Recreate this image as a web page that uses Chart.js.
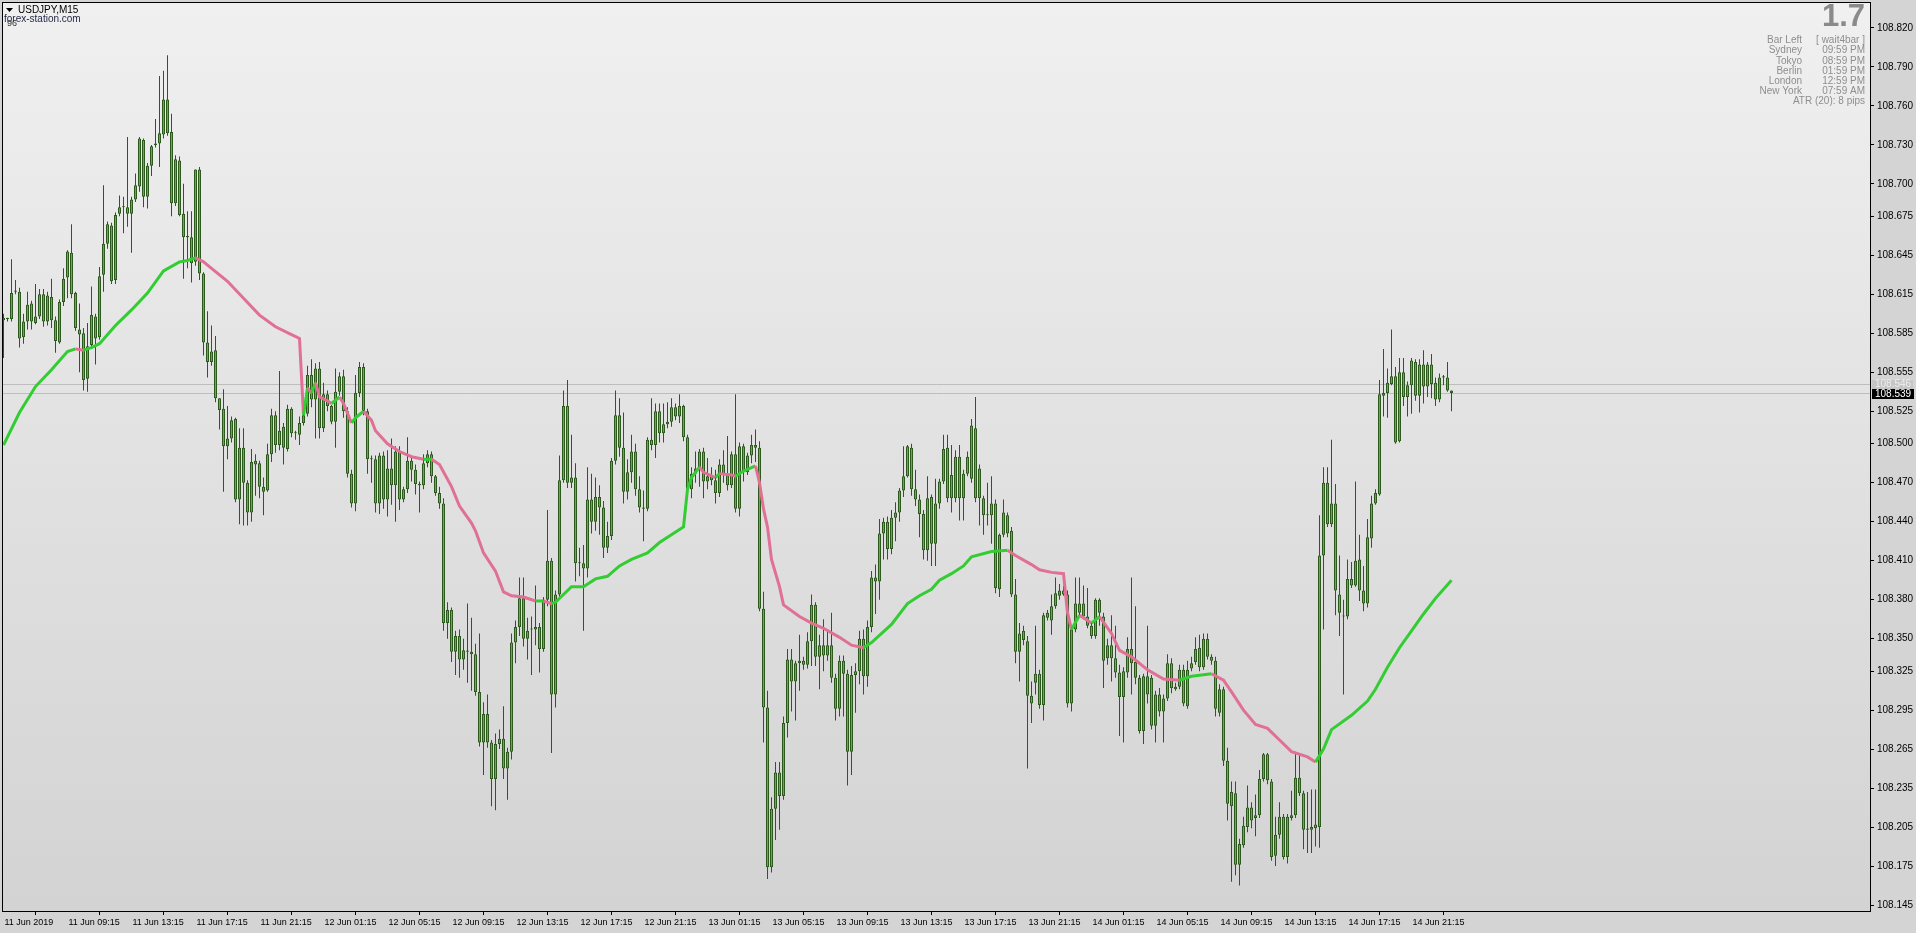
<!DOCTYPE html>
<html>
<head>
<meta charset="utf-8">
<title>USDJPY,M15</title>
<script src="https://cdn.jsdelivr.net/npm/chart.js@4.4.0/dist/chart.umd.min.js"></script>
<style>
html, body { margin: 0; padding: 0; background: #d4d4d4; overflow: hidden; }
canvas { display: block; }
</style>
</head>
<body>
<canvas id="chart" width="1916" height="933"></canvas>
<script>
// M15 bars from 11 Jun 2019 05:15, prices in points above 108.000 (1 point = 0.001)
var BASE = 108;
var opens = [
597,596,596,617,617,582,594,608,593,598, 615,594,613,595,578,609,628,647,616,588,
585,550,576,598,582,630,654,668,626,677, 682,682,677,688,698,734,690,714,730,731,
738,765,740,685,718,677,659,659,640,711, 631,578,563,572,535,527,498,504,519,457,
497,470,447,487,485,467,464,492,522,499, 497,496,527,508,507,516,523,553,534,558,
512,538,529,517,540,552,525,477,454,539, 559,525,488,488,454,491,457,481,468,494,
457,465,487,480,469,468,485,492,475,462, 454,362,372,340,352,334,340,340,338,309,
270,292,270,242,269,273,250,263,347,359, 381,350,357,357,359,342,380,410,307,384,
472,529,470,474,408,408,404,457,440,459, 451,420,429,487,522,497,463,478,494,465,
451,450,503,499,525,508,515,517,528,521, 529,505,465,477,481,494,471,475,472,462,
484,476,468,492,450,498,478,491,499,497, 373,297,174,219,247,229,285,334,317,331,
333,330,348,376,336,345,337,345,320,296, 333,323,263,322,325,350,321,359,397,394,
431,440,419,443,447,464,475,497,465,457, 446,418,459,423,454,471,497,458,458,490,
458,477,473,512,481,458,445,445,454,388, 430,445,433,384,340,349,348,300,316,323,
299,366,364,375,383,384,384,300,357,370, 377,367,360,352,380,367,335,345,335,324,
305,324,342,332,320,279,321,320,283,294, 294,304,331,311,313,326,298,327,332,343,
328,350,336,333,293,311,256,221,231,176, 191,205,220,212,214,242,261,240,183,199,
213,182,212,214,243,231,203,205,204,205, 414,470,438,454,384,367,367,396,391,411,
387,377,427,454,461,537,539,546,552,502, 555,536,545,563,537,561,544,561,547,534,
551,551,541];
var highs = [
600,597,642,626,620,600,617,610,623,619, 619,617,627,598,611,635,649,669,617,608,
589,593,621,600,636,699,671,670,678,691, 690,736,690,708,736,735,716,730,750,783,
787,799,754,722,721,700,679,679,711,713, 632,602,591,583,535,542,529,521,520,512,
512,472,496,492,487,474,500,527,525,556, 516,530,528,510,521,525,560,565,562,563,
547,541,530,558,555,557,528,480,553,563, 562,527,491,491,493,494,495,504,498,498,
467,505,491,484,471,492,495,494,476,467, 458,378,374,356,357,350,377,366,346,354,
301,307,272,277,280,298,266,354,364,397, 397,366,367,391,362,382,449,412,387,491,
541,549,507,485,420,422,482,477,474,468, 456,440,489,541,535,524,488,507,500,475,
464,505,535,531,531,531,532,535,531,538, 530,507,482,494,496,497,489,482,480,488,
495,506,494,538,501,500,493,507,511,502, 386,310,228,255,255,290,342,342,333,353,
336,355,384,378,353,365,357,370,323,337, 337,326,329,331,356,357,364,402,407,442,
443,444,449,455,466,498,499,500,480,461, 449,475,461,473,473,507,507,499,495,499,
480,494,519,536,484,460,470,475,457,431, 457,447,436,396,362,360,352,317,360,326,
370,372,384,397,392,391,387,359,397,397, 391,389,362,381,381,370,350,368,360,330,
328,351,397,375,322,323,360,322,310,312, 307,338,335,316,330,330,333,336,351,353,
354,354,338,336,315,313,266,240,240,196, 213,237,224,230,249,262,262,242,213,224,
215,215,233,263,262,233,232,234,234,445, 482,482,503,469,414,380,411,409,471,430,
406,442,460,465,549,573,558,588,559,566, 566,548,566,565,565,572,563,569,551,554,
553,563,541];
var lows = [
566,594,594,615,574,577,588,588,592,596, 590,591,589,570,577,606,612,612,587,555,
541,540,574,561,580,617,650,623,623,675, 662,667,647,686,694,682,681,706,728,713,
735,737,675,683,675,627,635,624,637,626, 568,551,560,532,511,463,488,501,455,438,
437,437,440,460,458,445,463,486,493,495, 484,494,505,503,499,514,521,528,504,504,
509,525,515,497,537,520,474,451,448,536, 522,477,470,447,446,450,444,453,440,449,
455,462,471,461,447,465,482,470,460,450, 356,350,332,322,320,326,316,310,306,267,
245,266,221,218,265,242,226,257,331,352, 344,334,322,345,324,340,375,262,297,380,
470,466,466,394,398,356,397,431,433,430, 412,416,426,484,490,454,457,470,460,447,
425,448,495,489,501,501,512,513,518,516, 502,460,458,470,467,458,465,468,454,459,
470,464,466,447,444,471,476,485,486,371, 270,165,170,195,203,226,274,294,287,310,
326,327,329,329,311,325,333,316,287,290, 290,237,245,293,315,307,313,355,369,380,
411,411,415,425,440,459,474,460,452,428, 411,410,406,406,450,469,455,447,455,441,
441,475,470,455,437,430,437,423,385,382, 428,428,382,331,317,345,250,285,307,296,
287,364,353,373,380,383,297,294,355,366, 365,358,350,350,360,312,330,317,320,275,
270,320,307,315,277,269,300,280,270,290, 270,302,308,310,311,298,296,325,330,325,
326,334,330,290,290,252,210,163,168,160, 189,201,204,198,212,240,238,179,175,196,
180,177,210,212,229,188,185,185,190,189, 357,436,436,368,352,307,365,389,390,379,
371,374,420,453,460,521,520,545,500,501, 529,521,523,533,524,531,536,535,529,532,
545,540,525];
var closes = [
595,596,616,618,581,594,607,594,598,615, 594,614,595,579,609,627,648,615,589,584,
549,575,599,581,629,654,669,625,676,682, 682,677,688,699,735,690,714,729,731,739,
765,739,685,719,676,659,659,639,711,631, 578,563,571,535,526,498,504,518,457,497,
470,447,486,484,467,463,492,522,499,510, 513,527,508,508,516,522,553,534,558,512,
538,529,517,540,552,525,477,454,539,559, 525,488,488,454,491,457,481,468,494,457,
465,487,480,469,468,485,492,475,462,454, 362,372,340,352,334,341,340,338,309,270,
292,270,242,269,273,250,263,347,359,381, 350,356,357,359,342,380,410,307,384,472,
529,470,474,408,408,404,457,440,459,451, 420,429,487,522,497,463,478,494,465,451,
450,503,499,525,508,515,517,528,521,529, 505,465,477,481,494,471,475,472,462,484,
476,468,492,450,498,478,491,499,497,373, 297,174,219,247,229,285,334,317,331,333,
330,348,376,336,345,337,345,320,296,333, 323,263,322,325,350,321,359,397,394,431,
440,419,443,447,464,475,498,465,457,446, 418,458,423,454,471,496,458,476,490,458,
477,490,514,458,458,445,445,454,389,430, 447,431,384,340,354,356,306,306,323,299,
368,370,375,385,387,387,300,357,377,377, 367,360,352,380,370,333,345,335,324,305,
325,342,331,320,279,321,307,283,307,307, 304,331,312,313,326,300,326,331,342,328,
350,336,333,296,311,256,223,232,176,192, 206,220,210,214,242,261,241,182,199,213,
182,213,214,243,231,203,203,203,207,414, 470,438,454,387,370,367,396,391,410,387,
377,428,454,462,538,539,547,552,501,555, 536,545,564,537,561,544,561,546,534,551,
552,541,539];

// moving average read at these bar numbers
var maBars = [0,4,8,12,16,18,20,22,24,28, 32,36,40,44,46,48,50,52,56,60, 64,68,72,74,75,76,77,78,79,81,
  82,84,85,87,88,90,92,93,96,99, 102,105,107,109,112,114,117,118,120,123, 125,127,130,133,135,137,138,142,145,148,
  151,154,157,161,164,169,170,171,172,174, 175,178,179,182,183,185,188,189,190,191, 192,194,195,199,202,205,209,212,215,217,
  222,226,229,232,234,237,240,242,247,251, 253,257,259,262,265,266,267,269,272,274, 277,279,282,286,290,294,297,302,305,307,
  310,313,316,319,322,326,328,330,332,337, 341,343,346,349,352,355,358,362];
var maValues = [499,524,544,557,571,573,572,574,577,591, 603,616,633,640,641,643,640,635,625,612, 599,590,584,581,522,543,539,547,536,533,
  531,536,531,516,520,525,518,510,500,494, 490,488,488,484,467,452,439,433,416,402, 386,383,382,379,379,377,378,390,390,396,
  398,406,411,416,424,434,436,465,474,482, 478,474,477,476,475,479,483,470,450,436, 411,390,376,367,362,358,351,345,343,347,
  361,377,383,388,395,400,406,413,417,418, 414,407,403,401,400,370,357,368,362,367, 354,341,336,326,319,318,321,323,318,309,
  295,284,281,272,263,259,255,265,280,291, 302,311,328,343,356,369,381,395];

var LABEL_STEP = 16; // one time label every 16 bars (4 hours)
var timeLabels = ["11 Jun 2019","11 Jun 09:15","11 Jun 13:15","11 Jun 17:15","11 Jun 21:15",
  "12 Jun 01:15","12 Jun 05:15","12 Jun 09:15","12 Jun 13:15","12 Jun 17:15","12 Jun 21:15",
  "13 Jun 01:15","13 Jun 05:15","13 Jun 09:15","13 Jun 13:15","13 Jun 17:15","13 Jun 21:15",
  "14 Jun 01:15","14 Jun 05:15","14 Jun 09:15","14 Jun 13:15","14 Jun 17:15","14 Jun 21:15"];
var priceTicks = [108.145,108.175,108.205,108.235,108.265,108.295,108.325,108.350,108.380,108.410,108.440,108.470,
  108.500,108.525,108.555,108.585,108.615,108.645,108.675,108.700,108.730,108.760,108.790,108.820];

var askPrice = 108.546;
var bidPrice = 108.539;
var symbolTitle = "USDJPY,M15";
var siteText = "forex-station.com";
var smallText = "96";
var spreadText = "1.7";
var infoLabels = ["Bar Left", "Sydney", "Tokyo", "Berlin", "London", "New York"];
var infoValues = ["[ wait4bar ]", "09:59 PM", "08:59 PM", "01:59 PM", "12:59 PM", "07:59 AM"];
var atrText = "ATR (20): 8 pips";

var FONT = "'Liberation Sans', Arial, sans-serif";
var BULL = "#3cc43c";
var BEAR = "#dc705c";
var OUTLINE = "#2c5a1c";
var MA_UP = "#32cd32";
var MA_DOWN = "#e07094";

function price(p) { return BASE + p / 1000; }

var wickData = opens.map(function (o, i) {
  return { x: i, y: [price(lows[i]), price(highs[i])] };
});
var bodyData = opens.map(function (o, i) {
  var lo = Math.min(o, closes[i]);
  var hi = Math.max(o, closes[i]);
  if (hi - lo < 0.8) hi = lo + 0.8; // doji still shows as a line
  return { x: i, y: [price(lo), price(hi)] };
});
var bodyColors = opens.map(function (o, i) { return closes[i] >= o ? BULL : BEAR; });
var maData = maBars.map(function (b, k) { return { x: b, y: price(maValues[k]) }; });

var chromePlugin = {
  id: "chrome",
  beforeDraw: function (chart) {
    var c = chart.ctx, a = chart.chartArea;
    c.save();
    c.fillStyle = "#d4d4d4";
    c.fillRect(0, 0, chart.width, chart.height);
    var g = c.createLinearGradient(0, a.top, 0, a.bottom);
    g.addColorStop(0, "#f0f0f0");
    g.addColorStop(1, "#d3d3d3");
    c.fillStyle = g;
    c.fillRect(a.left, a.top, a.right - a.left, a.bottom - a.top);
    c.restore();
  },
  beforeDatasetsDraw: function (chart) {
    var c = chart.ctx, a = chart.chartArea, y = chart.scales.y;
    c.save();
    c.strokeStyle = "#bdbdbd";
    c.lineWidth = 1;
    [askPrice, bidPrice].forEach(function (p) {
      var py = Math.round(y.getPixelForValue(p)) + 0.5;
      c.beginPath();
      c.moveTo(a.left, py);
      c.lineTo(a.right, py);
      c.stroke();
    });
    c.restore();
  },
  afterDraw: function (chart) {
    var c = chart.ctx, a = chart.chartArea, y = chart.scales.y;
    c.save();
    c.strokeStyle = "#000";
    c.lineWidth = 1;
    c.strokeRect(a.left - 0.5, a.top - 0.5, a.right - a.left + 1, a.bottom - a.top + 1);

    // ask / bid labels on the price axis
    c.font = "10px " + FONT;
    c.textBaseline = "middle";
    c.textAlign = "left";
    var ay = Math.round(y.getPixelForValue(askPrice));
    var by = Math.round(y.getPixelForValue(bidPrice));
    c.fillStyle = "#c6c6c6";
    c.fillRect(a.right + 2, ay - 4, 41, 9);
    c.fillStyle = "#ededed";
    c.fillText(askPrice.toFixed(3), a.right + 5, ay + 0.5);
    c.fillStyle = "#000";
    c.fillRect(a.right + 2, by - 4, 42, 10);
    c.fillStyle = "#fff";
    c.fillText(bidPrice.toFixed(3), a.right + 5, by + 1);

    // top left
    c.fillStyle = "#000";
    c.beginPath();
    c.moveTo(6, 8); c.lineTo(13, 8); c.lineTo(9.5, 12); c.closePath();
    c.fill();
    c.font = "10px " + FONT;
    c.fillText(symbolTitle, 18, 10.5);
    c.fillStyle = "#1e2440";
    c.fillText(siteText, 4, 19);
    c.fillStyle = "#333";
    c.font = "9px " + FONT;
    c.fillText(smallText, 7, 24);

    // top right info block
    c.textAlign = "right";
    c.fillStyle = "#8a8a8a";
    c.font = "bold 31px " + FONT;
    c.textBaseline = "alphabetic";
    c.fillText(spreadText, 1865, 26);
    c.font = "10px " + FONT;
    c.textBaseline = "middle";
    c.fillStyle = "#8e8e8e";
    for (var k = 0; k < infoLabels.length; k++) {
      var ly = 40.5 + k * 10.15;
      c.fillText(infoLabels[k], 1802, ly);
      c.fillText(infoValues[k], 1865, ly);
    }
    c.fillText(atrText, 1865, 40.5 + infoLabels.length * 10.15);
    c.restore();
  }
};

var ctx = document.getElementById("chart").getContext("2d");
var chart = new Chart(ctx, {
  type: "bar",
  data: {
    datasets: [
      {
        type: "line",
        label: "MA",
        data: maData,
        order: 0,
        borderColor: MA_UP,
        borderWidth: 3,
        pointRadius: 0,
        tension: 0,
        fill: false,
        segment: {
          borderColor: function (s) { return s.p1.parsed.y < s.p0.parsed.y ? MA_DOWN : MA_UP; }
        }
      },
      {
        label: "body",
        data: bodyData,
        order: 1,
        backgroundColor: bodyColors,
        borderColor: OUTLINE,
        borderWidth: 1,
        borderSkipped: false,
        barThickness: 3,
        grouped: false,
        inflateAmount: 0
      },
      {
        label: "wick",
        data: wickData,
        order: 2,
        backgroundColor: OUTLINE,
        borderWidth: 0,
        barThickness: 1,
        grouped: false,
        inflateAmount: 0
      }
    ]
  },
  options: {
    responsive: false,
    animation: false,
    events: [],
    layout: { padding: { left: 3, top: 3, right: 0, bottom: 0 } },
    plugins: { legend: { display: false }, tooltip: { enabled: false } },
    scales: {
      x: {
        type: "linear",
        min: -0.125,
        max: 466.625,
        offset: false,
        bounds: "data",
        border: { display: false },
        grid: { drawOnChartArea: false, drawTicks: true, tickLength: 4, color: "#000" },
        afterBuildTicks: function (axis) {
          axis.ticks = timeLabels.map(function (t, k) { return { value: k * LABEL_STEP }; });
        },
        afterFit: function (axis) {
          axis.height = 22;
          axis.paddingLeft = 0;
          axis.paddingRight = 0;
        },
        ticks: {
          autoSkip: false,
          maxRotation: 0,
          align: "start",
          labelOffset: 1,
          padding: 2,
          color: "#000",
          font: { family: FONT, size: 9 },
          callback: function (v) { return timeLabels[Math.round(v / LABEL_STEP)]; }
        }
      },
      y: {
        position: "right",
        min: 108.1404,
        max: 108.8392,
        bounds: "data",
        border: { display: false },
        grid: { drawOnChartArea: false, drawTicks: true, tickLength: 4, color: "#000" },
        afterBuildTicks: function (axis) {
          axis.ticks = priceTicks.map(function (v) { return { value: v }; });
        },
        afterFit: function (axis) {
          axis.width = 46;
          axis.paddingTop = 0;
          axis.paddingBottom = 0;
        },
        ticks: {
          autoSkip: false,
          padding: 3,
          color: "#000",
          font: { family: FONT, size: 10 },
          callback: function (v) { return Number(v).toFixed(3); }
        }
      }
    }
  },
  plugins: [chromePlugin]
});
</script>
</body>
</html>
